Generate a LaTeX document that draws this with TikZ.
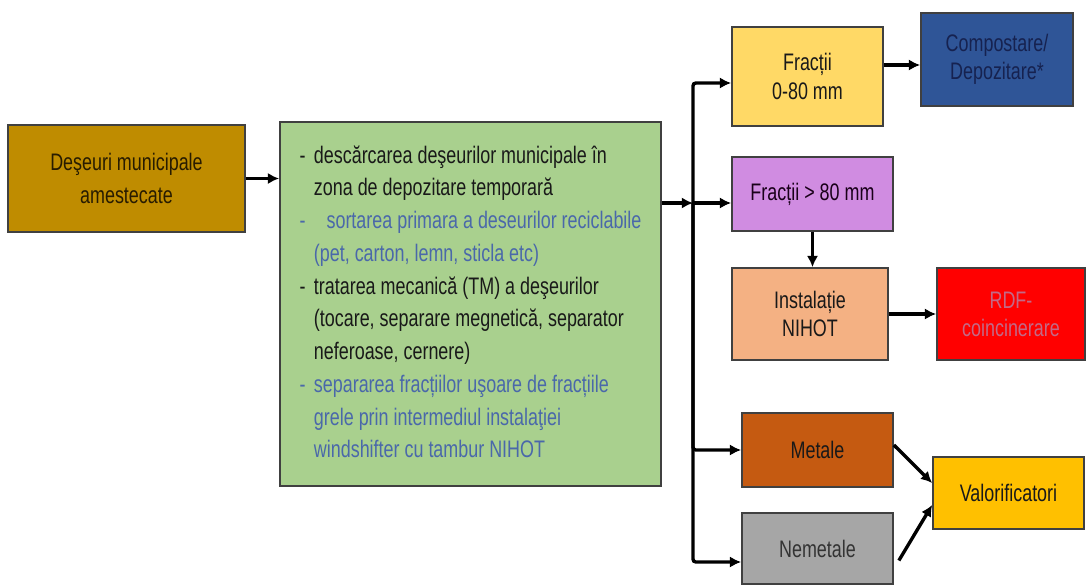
\documentclass[tikz,border=0pt]{standalone}
\usepackage{fontspec}
\setmainfont[FakeStretch=0.75]{Liberation Sans}
\usepackage{tikz}
\usetikzlibrary{calc,arrows.meta}

\definecolor{wastebrown}{RGB}{191,140,0}
\definecolor{wastetext}{RGB}{40,28,0}
\definecolor{procgreen}{RGB}{169,208,142}
\definecolor{procblue}{RGB}{74,104,170}
\definecolor{smallyellow}{RGB}{255,217,102}
\definecolor{compblue}{RGB}{47,85,151}
\definecolor{comptext}{RGB}{22,34,80}
\definecolor{bigviolet}{RGB}{208,140,225}
\definecolor{nihotorange}{RGB}{244,177,131}
\definecolor{rdfred}{RGB}{255,0,0}
\definecolor{rdftext}{RGB}{195,105,135}
\definecolor{metalbrown}{RGB}{197,90,17}
\definecolor{nonmetalgray}{RGB}{166,166,166}
\definecolor{valoryellow}{RGB}{255,192,0}

\newcommand{\blutxt}[1]{\textcolor{procblue}{#1}}

\tikzset{
  box/.style={draw=black!75, line width=1.2pt, align=center, inner sep=0pt,
    font=\fontsize{17}{20}\selectfont, text=black!90},
  flow/.style={-{Latex[length=8pt,width=8pt]}, line width=2.4pt},
}

\begin{document}
\begin{tikzpicture}[x=0.025cm, y=-0.025cm]

\useasboundingbox (0,0) rectangle (1086,586);

% left side
\node [box, fill=wastebrown, text=wastetext, minimum width=5.925cm, minimum height=2.675cm,
  font=\fontsize{17}{24}\selectfont] (waste) at (126.5,178.5) {Deşeuri municipale\\amestecate};

\node [box, fill=procgreen, minimum width=9.525cm, minimum height=9.1cm,
  font=\fontsize{17}{23.3}\selectfont] (proc) at (470.5,304) {%
\begin{tabular}{@{}l@{\hspace{6pt}}l@{}}
- & descărcarea deşeurilor municipale în \\
  & zona de depozitare temporară \\
\blutxt{-} & \blutxt{\hspace{9pt}sortarea primara a deseurilor reciclabile} \\
  & \blutxt{(pet, carton, lemn, sticla etc)} \\
- & tratarea mecanică (TM) a deşeurilor \\
  & (tocare, separare megnetică, separator \\
  & neferoase, cernere) \\
\blutxt{-} & \blutxt{separarea fracțiilor uşoare de fracțiile} \\
  & \blutxt{grele prin intermediul instalaţiei} \\
  & \blutxt{windshifter cu tambur NIHOT}
\end{tabular}};

% right side
\node [box, fill=smallyellow, minimum width=3.775cm, minimum height=2.475cm] (f080) at (807.5,76.5) {Fracții\\0-80 mm};
\node [box, fill=compblue, text=comptext, minimum width=3.8cm, minimum height=2.325cm] (comp) at (997,59.5) {Compostare/\\Depozitare*};
\node [box, fill=bigviolet, text=black!80!violet, minimum width=4.025cm, minimum height=1.85cm] (f80) at (812.5,194) {Fracții > 80 mm};
\node [box, fill=nihotorange, minimum width=3.9cm, minimum height=2.3cm] (nihot) at (810,314) {Instalație\\NIHOT};
\node [box, fill=rdfred, text=rdftext, minimum width=3.7cm, minimum height=2.3cm] (rdf) at (1011,314) {RDF-\\coincinerare};
\node [box, fill=metalbrown, minimum width=3.775cm, minimum height=1.85cm] (metale) at (817.5,450) {Metale};
\node [box, fill=nonmetalgray, text=black!80, minimum width=3.775cm, minimum height=1.775cm] (nemetale) at (817.5,548.5) {Nemetale};
\node [box, fill=valoryellow, minimum width=3.775cm, minimum height=1.8cm] (valor) at (1008.5,493) {Valorificatori};

% trunk points
\coordinate (jn) at (693,203);
\coordinate (ttop) at (693,83);
\coordinate (tbot) at (693,562);
\coordinate (cmp) at (900,65);

% connectors
\draw [flow] (waste.east) -- (proc.west |- waste.east);
\draw [flow] (proc.east |- jn) -- (jn);
\draw [flow] (jn) -- (f80.west |- jn);
\draw [flow, rounded corners=2pt] (jn) |- (f080.west |- ttop);
\draw [flow, rounded corners=2pt] (jn) |- (metale.west);
\draw [flow, rounded corners=2pt] (jn) |- (nemetale.west |- tbot);

\draw [flow] (f080.east |- cmp) -- (comp.west |- cmp);
\draw [flow] (f80.south) -- (f80.south |- nihot.north);
\draw [flow] (nihot.east) -- (rdf.west);

\draw [flow] ([yshift=0.125cm]metale.east) -- ([yshift=0.25cm]valor.west);
\draw [flow] ([xshift=0.125cm,yshift=-0.3cm]nemetale.east) -- ([yshift=-0.3cm]valor.west);

\end{tikzpicture}
\end{document}
